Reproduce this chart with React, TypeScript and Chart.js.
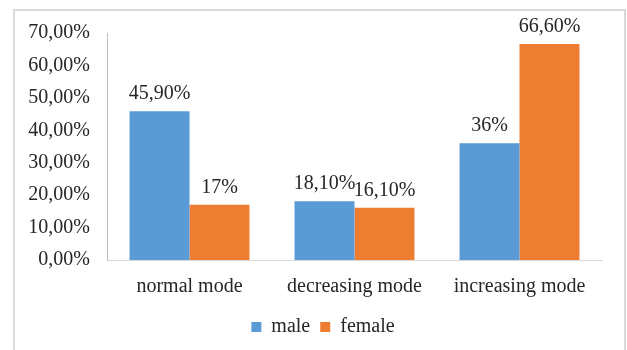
import React, { useEffect, useRef } from "react";
import { Chart, registerables } from "chart.js";

Chart.register(...registerables);

const categories = ["normal mode", "decreasing mode", "increasing mode"];
const maleValues = [45.9, 18.1, 36];
const femaleValues = [17, 16.1, 66.6];
const seriesNames = ["male", "female"];

const BLUE = "#5B9BD5";
const ORANGE = "#ED7D31";
const TEXT = "#262626";
const SERIF = "'Liberation Serif', 'Times New Roman', serif";

const fmtValue = (v: number) =>
  Number.isInteger(v) ? `${v}%` : `${v.toFixed(2).replace(".", ",")}%`;
const fmtTick = (v: number) => `${v.toFixed(2).replace(".", ",")}%`;

// Writes each bar's value just above it
const valueLabels = {
  id: "valueLabels",
  afterDatasetsDraw(chart: any) {
    const ctx = chart.ctx;
    ctx.save();
    ctx.font = `20px ${SERIF}`;
    ctx.fillStyle = TEXT;
    ctx.textAlign = "center";
    ctx.textBaseline = "alphabetic";
    chart.data.datasets.forEach((ds: any, i: number) => {
      const meta = chart.getDatasetMeta(i);
      meta.data.forEach((bar: any, j: number) => {
        ctx.fillText(fmtValue(ds.data[j]), bar.x, bar.y - 12);
      });
    });
    ctx.restore();
  },
};

// Centres the legend under the plot rather than under the whole canvas
const legendOffset = {
  id: "legendOffset",
  afterLayout(chart: any) {
    const lg = chart.legend;
    if (!lg) return;
    const shift = 22;
    lg.left += shift;
    lg.right += shift;
  },
};

export default function App() {
  const canvasRef = useRef<HTMLCanvasElement | null>(null);

  useEffect(() => {
    if (!canvasRef.current) return;
    const chart = new Chart(canvasRef.current, {
      type: "bar",
      data: {
        labels: categories,
        datasets: [
          {
            label: seriesNames[0],
            data: maleValues,
            backgroundColor: BLUE,
            categoryPercentage: 0.727,
            barPercentage: 1,
          },
          {
            label: seriesNames[1],
            data: femaleValues,
            backgroundColor: ORANGE,
            categoryPercentage: 0.727,
            barPercentage: 1,
          },
        ],
      },
      options: {
        animation: false,
        responsive: false,
        maintainAspectRatio: false,
        layout: { padding: { left: 0, right: 25, top: 33, bottom: 3 } },
        plugins: {
          tooltip: { enabled: false },
          legend: {
            position: "bottom",
            labels: {
              boxWidth: 10,
              boxHeight: 10,
              padding: 10,
              color: TEXT,
              font: { family: SERIF, size: 20 },
            },
          },
        },
        scales: {
          x: {
            grid: { display: false, drawTicks: false },
            border: { display: true, color: "#d9d9d9", width: 1 },
            ticks: {
              color: TEXT,
              padding: 15,
              font: { family: SERIF, size: 20 },
            },
            afterFit: (s: any) => {
              s.height = 47;
            },
          },
          y: {
            min: 0,
            max: 70,
            grid: { display: false, drawTicks: false },
            border: { display: true, color: "#bfbfbf", width: 1 },
            ticks: {
              stepSize: 10,
              color: TEXT,
              padding: 17,
              font: { family: SERIF, size: 20 },
              callback: (v: any) => fmtTick(Number(v)),
            },
            afterFit: (s: any) => {
              s.width = 107;
            },
          },
        },
      },
      plugins: [valueLabels, legendOffset],
    });
    return () => chart.destroy();
  }, []);

  return (
    <div
      style={{
        position: "fixed",
        left: 0,
        top: 0,
        width: 627,
        height: 350,
        background: "#fff",
        overflow: "hidden",
      }}
    >
      <div
        style={{
          position: "absolute",
          left: 13,
          top: 9,
          width: 609,
          height: 400,
          border: "2px solid #d9d9d9",
        }}
      />
      <canvas
        ref={canvasRef}
        width={627}
        height={350}
        style={{ position: "absolute", left: 0, top: 0 }}
      />
    </div>
  );
}
